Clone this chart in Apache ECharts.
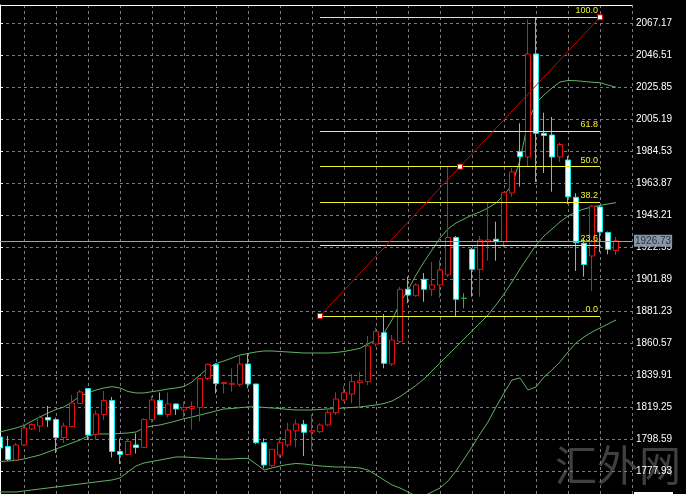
<!DOCTYPE html>
<html>
<head>
<meta charset="utf-8">
<script src="https://cdn.jsdelivr.net/npm/echarts@6/dist/echarts.min.js"></script>
<style>
html,body{margin:0;padding:0;background:#000;}
#c{width:686px;height:494px;}
</style>
</head>
<body>
<div id="c"></div>
<script>
// ---- data ----
const barCount = 80; // 78 bars + empty right shift
const categories = Array.from({length: barCount}, (_, i) => 'B' + i);

const open = [1800.08,1793.95,1785.23,1794.92,1805.25,1807.18,1812.67,1811.38,1799.76,1806.86,
1821.71,1831.39,1801.70,1814.61,1823.65,1790.72,1788.78,1794.92,1793.30,1811.38,
1823.65,1814.61,1821.39,1817.51,1818.48,1819.13,1837.85,1846.89,1834.62,1834.11,
1834.11,1847.21,1834.30,1796.40,1781.55,1788.46,1794.92,1804.15,1808.28,1803.31,
1803.51,1807.83,1815.77,1823.97,1827.84,1835.14,1835.78,1860.12,1867.42,1847.21,
1861.61,1895.44,1891.31,1901.89,1895.44,1898.21,1904.67,1928.88,1889.63,1921.26,
1908.35,1926.17,1927.72,1926.17,1957.61,1984.27,1980.85,2047.35,1996.15,1995.05,
1980.85,1978.91,1954.83,1925.14,1916.94,1948.57,1932.11,1920.49];

const close = [1792.98,1785.56,1794.92,1805.89,1808.15,1812.67,1811.06,1799.76,1807.18,1822.03,
1829.13,1801.37,1814.93,1823.65,1790.72,1788.78,1797.18,1793.30,1811.38,1823.97,
1814.61,1821.39,1818.16,1819.13,1819.77,1837.85,1846.89,1834.62,1835.27,1834.75,
1847.21,1834.30,1796.40,1782.01,1792.14,1796.40,1804.60,1808.48,1803.12,1804.15,
1807.83,1816.03,1824.62,1828.68,1835.78,1836.24,1858.83,1868.06,1847.66,1862.71,
1895.44,1891.76,1898.21,1895.44,1898.21,1907.90,1928.88,1888.98,1889.63,1908.35,
1927.27,1927.27,1926.17,1957.80,1971.17,1981.04,2047.35,1996.15,1994.73,1980.85,
1988.92,1955.22,1925.52,1911.45,1949.22,1932.43,1921.26,1926.73];

const low = [1790.40,1784.59,1784.59,1794.27,1804.60,1803.31,1806.54,1789.75,1796.21,1806.54,
1821.39,1798.15,1798.15,1811.06,1786.85,1782.65,1788.46,1789.43,1792.98,1809.44,
1814.29,1812.67,1814.29,1812.67,1804.92,1810.09,1836.88,1828.17,1828.17,1829.33,
1832.56,1831.52,1795.37,1779.88,1780.91,1786.72,1793.43,1793.43,1787.82,1791.24,
1802.47,1807.18,1814.29,1822.87,1821.84,1820.10,1833.65,1858.38,1844.44,1845.92,
1860.77,1886.40,1890.66,1887.43,1890.92,1889.82,1903.38,1877.75,1883.17,1890.66,
1890.66,1913.90,1913.90,1922.55,1955.22,1961.68,1974.59,1964.71,1970.52,1958.45,
1977.62,1950.51,1907.25,1903.57,1894.34,1919.52,1918.03,1917.58];

const high = [1802.67,1800.73,1796.21,1808.80,1808.80,1813.96,1820.10,1812.67,1809.44,1827.20,
1830.43,1831.72,1817.19,1829.78,1825.91,1799.11,1799.11,1802.34,1812.03,1826.55,
1828.81,1828.81,1821.71,1823.00,1823.00,1838.17,1847.53,1847.53,1835.59,1844.44,
1852.38,1853.67,1834.30,1799.24,1792.34,1799.89,1809.32,1811.51,1811.06,1814.74,
1808.93,1817.51,1828.94,1833.01,1840.76,1842.24,1865.29,1870.65,1879.49,1865.93,
1896.92,1903.57,1899.31,1905.96,1913.06,1914.35,1974.72,1929.85,1892.86,1922.10,
1929.85,1951.35,1939.08,1958.45,1973.75,2002.61,2069.62,2071.04,2009.45,2006.67,
1990.08,1981.50,1957.42,1928.56,1949.86,1949.22,1932.75,1929.20];

const bbUpper = [1803.31,1804.60,1805.89,1807.51,1810.41,1812.99,1815.58,1817.84,1819.45,1822.68,
1826.55,1828.49,1830.43,1831.72,1832.56,1831.72,1829.46,1828.49,1828.49,1829.33,
1830.10,1831.07,1831.72,1832.69,1835.59,1840.11,1844.63,1847.53,1849.15,1851.09,
1853.02,1853.99,1854.96,1855.60,1855.60,1855.28,1854.96,1854.64,1854.31,1854.31,
1854.31,1854.31,1854.64,1855.28,1856.25,1857.35,1860.12,1862.71,1867.23,1875.62,
1886.59,1894.99,1904.67,1913.06,1920.81,1928.56,1934.37,1938.24,1940.82,1943.41,
1945.34,1947.93,1951.15,1956.32,1962.77,1978.91,2003.45,2015.71,2020.88,2025.40,
2029.27,2030.24,2030.11,2029.59,2029.14,2028.82,2027.33,2025.85];

const bbMiddle = [1784.27,1784.59,1784.91,1785.88,1787.17,1788.46,1790.40,1792.34,1794.27,1796.21,
1798.15,1800.73,1802.02,1802.02,1802.02,1802.34,1802.67,1803.31,1805.89,1807.18,
1807.83,1809.12,1810.41,1811.90,1812.99,1814.29,1815.58,1816.87,1818.16,1818.48,
1819.00,1819.45,1819.64,1819.13,1818.81,1818.48,1817.84,1817.51,1817.51,1817.51,
1817.84,1818.16,1818.48,1818.81,1819.13,1819.45,1820.10,1820.74,1821.71,1823.32,
1826.10,1829.78,1833.33,1837.53,1842.69,1847.86,1853.02,1858.19,1863.35,1868.52,
1873.68,1878.85,1885.30,1892.40,1900.15,1908.54,1916.29,1924.04,1929.85,1934.37,
1938.89,1942.76,1945.34,1947.28,1948.57,1949.54,1950.51,1951.35];

const bbLower = [1764.57,1764.57,1764.57,1765.22,1765.87,1766.51,1767.16,1767.80,1768.45,1769.09,
1769.74,1770.39,1771.03,1771.68,1772.32,1773.61,1777.49,1781.36,1783.30,1784.27,
1785.23,1786.20,1787.17,1787.17,1786.85,1786.53,1786.20,1785.88,1785.69,1785.88,
1786.20,1786.33,1782.65,1778.78,1780.07,1781.36,1782.33,1782.97,1782.65,1782.01,
1781.36,1781.04,1780.71,1780.71,1780.52,1780.07,1778.78,1775.55,1772.32,1769.09,
1767.16,1764.57,1761.99,1761.99,1764.57,1767.16,1771.68,1778.13,1785.88,1793.63,
1802.02,1809.77,1819.45,1828.49,1836.88,1838.17,1830.43,1832.36,1838.82,1843.34,
1848.50,1854.96,1860.77,1864.64,1867.87,1870.45,1873.04,1875.62];

const yTicks = [1777.93,1798.59,1819.25,1839.91,1860.57,1881.23,1901.89,1922.55,
1943.21,1963.87,1984.53,2005.19,2025.85,2046.51,2067.17];
const yMin = 1763.27;
const yMax = 2078.98;

// Fibonacci tool anchors (bar index, price)
const fibStart = {bar: 40, price: 1878.20};
const fibEnd = {bar: 75, price: 2071.04};
const fibLevels = [0, 23.6, 38.2, 50, 61.8, 100];

const watermark = '汇外网';

// ---- build ----
const candleData = open.map((o, i) => [o, close[i], low[i], high[i]]);
const fibPrice = l => fibStart.price + (fibEnd.price - fibStart.price) * l / 100;
const fibMid = {bar: (fibStart.bar + fibEnd.bar) / 2, price: fibPrice(50)};
const lastClose = close[close.length - 1];

const FONT = 'Liberation Sans';
const GRID_COLOR = '#7a7a7a';
const BAND_COLOR = '#62b065';
const YELLOW = '#f4f430';

const chart = echarts.init(document.getElementById('c'), null, {renderer: 'canvas'});

const bandSeries = (data) => ({
  type: 'line', xAxisIndex: 0, yAxisIndex: 0, data: data,
  symbol: 'none', showSymbol: false, silent: true, clip: true,
  lineStyle: {color: BAND_COLOR, width: 1}, z: 3
});

chart.setOption({
  backgroundColor: '#000000',
  animation: false,
  grid: {left: 0, width: 632, top: 5, bottom: 0, containLabel: false},
  xAxis: [
    {
      type: 'category', data: categories, boundaryGap: false, position: 'top',
      axisLine: {show: true, lineStyle: {color: '#ffffff', width: 1}},
      axisTick: {show: false}, axisLabel: {show: false},
      splitLine: {show: true, interval: (i) => i % 4 === 3,
        lineStyle: {color: GRID_COLOR, width: 1, type: [3, 3]}}
    },
    {type: 'value', min: 0, max: barCount - 1, show: false}
  ],
  yAxis: {
    type: 'value', position: 'right', min: yMin, max: yMax,
    axisLine: {show: true, lineStyle: {color: '#ffffff', width: 1}},
    axisTick: {show: true, length: 3, customValues: yTicks, lineStyle: {color: '#ffffff'}},
    axisLabel: {show: true, customValues: yTicks, color: '#ffffff', fontSize: 10,
      fontFamily: FONT, margin: 4, formatter: v => Number(v).toFixed(2)},
    splitLine: {show: true, lineStyle: {color: GRID_COLOR, width: 1, type: [3, 3]}}
  },
  graphic: [
    {type: 'text', left: 555, top: 444, z: -10, silent: true,
      style: {text: watermark, font: '42px "Noto Sans CJK SC"', fill: '#404040'}},
    {type: 'rect', left: 634, top: 492, silent: true,
      shape: {width: 39, height: 3}, style: {fill: '#ffffff'}}
  ],
  series: [
    {
      type: 'candlestick', xAxisIndex: 0, yAxisIndex: 0, data: candleData,
      barWidth: 5, clip: true, z: 4,
      itemStyle: {
        color: '#000000', color0: '#f4ffff',
        borderColor: '#e81010', borderColor0: '#00f0f0',
        borderColorDoji: '#20c020', borderWidth: 1
      },
      markLine: {
        silent: true, symbol: ['none', 'none'], animation: false,
        lineStyle: {color: '#9aa4b0', width: 1, type: 'solid'},
        label: {show: true, position: 'end', distance: 2,
          formatter: p => Number(p.value).toFixed(2),
          backgroundColor: '#8796a6', color: '#26323e', fontSize: 10, fontFamily: FONT,
          padding: [1, 1, 0, 1], lineHeight: 11},
        data: [{yAxis: lastClose}]
      }
    },
    bandSeries(bbUpper),
    bandSeries(bbMiddle),
    bandSeries(bbLower),
    {
      type: 'line', xAxisIndex: 1, yAxisIndex: 0, z: 5, silent: true,
      data: [[fibStart.bar, fibStart.price], [fibMid.bar, fibMid.price], [fibEnd.bar, fibEnd.price]],
      symbol: 'rect', symbolSize: 5, showSymbol: true,
      itemStyle: {color: '#ffffff', borderColor: '#e00000', borderWidth: 1},
      lineStyle: {color: '#d40000', width: 1},
      markLine: {
        silent: true, symbol: ['none', 'none'], animation: false,
        lineStyle: {color: YELLOW, width: 1, type: 'solid'},
        label: {show: true, position: 'insideEndTop', distance: [2, 2],
          formatter: '{b}', color: YELLOW, fontSize: 9, fontFamily: FONT},
        data: fibLevels.map(l => [
          {name: l.toFixed(1), coord: [fibStart.bar, fibPrice(l)]},
          {coord: [fibEnd.bar, fibPrice(l)]}
        ])
      }
    }
  ]
});
</script>
</body>
</html>
